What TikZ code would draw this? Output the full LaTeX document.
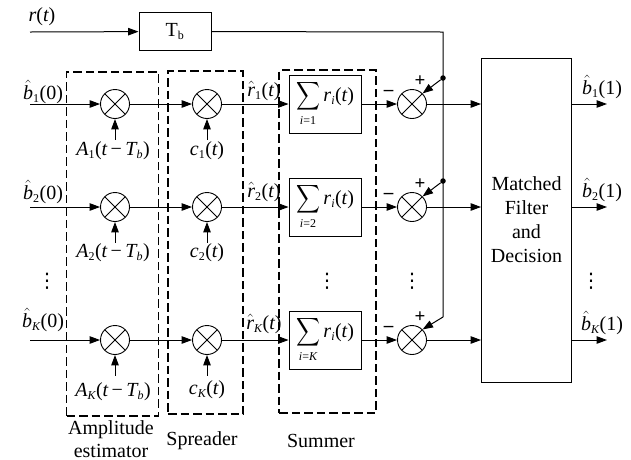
\documentclass[tikz,border=0pt]{standalone}
\usepackage{amsmath}
\usepackage{graphicx}
\usepackage{fontspec}
\setmainfont{Liberation Serif}
\newfontfamily\dotsfont{DejaVu Sans}
\usetikzlibrary{arrows.meta,positioning,calc}
\DeclareMathSizes{20}{20}{12}{9}
\newcommand{\bigsum}{\mathop{\scalebox{0.8}[0.95]{$\displaystyle\sum$}}\limits}
\newcommand{\tv}[1]{\text{\itshape #1}}
\newcommand{\tn}[1]{\text{\upshape #1}}
\tikzset{
  mult/.style={circle,draw,line width=0.9pt,minimum size=29pt,inner sep=0pt,path picture={
    \draw[line width=0.9pt] (path picture bounding box.north west)--(path picture bounding box.south east);
    \draw[line width=0.9pt] (path picture bounding box.north east)--(path picture bounding box.south west);}},
  unit/.style={draw,line width=0.9pt,align=center,inner sep=0pt},
  group/.style={draw,line width=1.8pt,dash pattern=on 8.5pt off 4pt},
  arr/.style={-{Triangle[length=10.5pt,width=7.5pt]},line width=1pt},
  wire/.style={line width=1pt},
  txt/.style={inner sep=0pt,font=\fontsize{20}{23.5}\selectfont,align=center},
  sgn/.style={inner sep=0pt,font=\fontsize{19}{19}\selectfont\bfseries},
  junc/.style={circle,fill,inner sep=0pt,minimum size=5.5pt}
}
\begin{document}
\begin{tikzpicture}[x=1pt,y=-1pt,font=\fontsize{20}{24}\selectfont]
  \useasboundingbox (0,0) rectangle (631,459);
  % dashed groups
  \node[group,minimum width=92pt,minimum height=343.5pt] (amp) at (112.5,244) {};
  \node[group,minimum width=75pt,minimum height=343pt] (spr) at (205.5,242.5) {};
  \node[group,minimum width=96.5pt,minimum height=343pt] (smr) at (327.5,241.5) {};
  \node[txt] (ampl) at (111,439) {Amplitude\\estimator};
  \node[txt] (sprl) at (202,441) {Spreader};
  \node[txt] (smrl) at (321,441) {Summer};
  % delay and decision
  \node[txt] (rt) at (42,17) {$\tv{r}\tn{(}\tv{t}\tn{)}$};
  \coordinate (rin) at (30,32);
  \node[unit,minimum width=72pt,minimum height=38pt] (delay) at (175,31.5) {T\textsubscript{b}};
  \node[unit,minimum width=90pt,minimum height=324pt] (dec) at (526.5,220) {Matched\\Filter\\and\\Decision};
  \draw[arr] (rin)--(delay);
  % rows
  \foreach \k/\sb/\y/\by/\ry/\ay/\cy/\oy in {1/\tn{1}/104/92/91/151/151/87,2/\tn{2}/207/192/192/253/253/190,K/\tv{K}/340/320/324/392/390/323}{
    \coordinate (in\k) at (30,\y);
    \node[mult] (ma\k) at (115,\y) {};
    \node[mult] (mc\k) at (207,\y) {};
    \node[unit,minimum width=72pt,minimum height=58pt] (sum\k) at (325,\y)
      {$\bigsum_{\tv{i}\tn{=}\sb}\tv{r}_{\tv{i}}\tn{(}\tv{t}\tn{)}$};
    \node[mult] (sub\k) at (412,\y) {};
    \coordinate (out\k) at (607,\y);
    \node[txt] (bl\k) at (43,\by) {$\hat{\tv{b}}_{\sb}\tn{(0)}$};
    \node[txt] (rl\k) at (264,\ry) {$\hat{\tv{r}}_{\sb}\tn{(}\tv{t}\tn{)}$};
    \node[txt] (al\k) at (113,\ay) {$\tv{A}_{\sb}\tn{(}\tv{t}\mkern3mu\tn{\textminus}\mkern3mu\tv{T}_{\tv{b}}\tn{)}$};
    \node[txt] (cl\k) at (207,\cy) {$\tv{c}_{\sb}\tn{(}\tv{t}\tn{)}$};
    \node[txt] (ol\k) at (602,\oy) {$\hat{\tv{b}}_{\sb}\tn{(1)}$};
    \node[sgn] (pl\k) at (420,\y-23) {+};
    \node[sgn] (mi\k) at (388.5,\y-11) {--};
    \draw[arr] (in\k)--(ma\k);
    \draw[arr] (ma\k)--(mc\k);
    \draw[arr] (mc\k)--(sum\k);
    \draw[arr] (sum\k)--(sub\k);
    \draw[arr] (sub\k)--(sub\k-|dec.west);
    \draw[arr] (sub\k-|dec.east)--(out\k);
    \draw[arr] ($(ma\k.south)+(0,21)$)--(ma\k);
    \draw[arr] ($(mc\k.south)+(0,21)$)--(mc\k);
  }
  % feedback from the delay
  \coordinate (cor) at (443,32);
  \coordinate (bend) at (443,317);
  \node[junc] (j1) at (443,78) {};
  \node[junc] (j2) at (443,181) {};
  \draw[wire] (delay)--(cor)--(bend);
  \draw[arr] (j1)--(sub1.north east);
  \draw[arr] (j2)--(sub2.north east);
  \draw[arr] (bend)--(subK.north east);
  % vertical dots
  \foreach \x in {47,327,412,591}{
    \node[txt] (dots\x) at (\x,281) {\dotsfont ⋮};
  }
\end{tikzpicture}
\end{document}
